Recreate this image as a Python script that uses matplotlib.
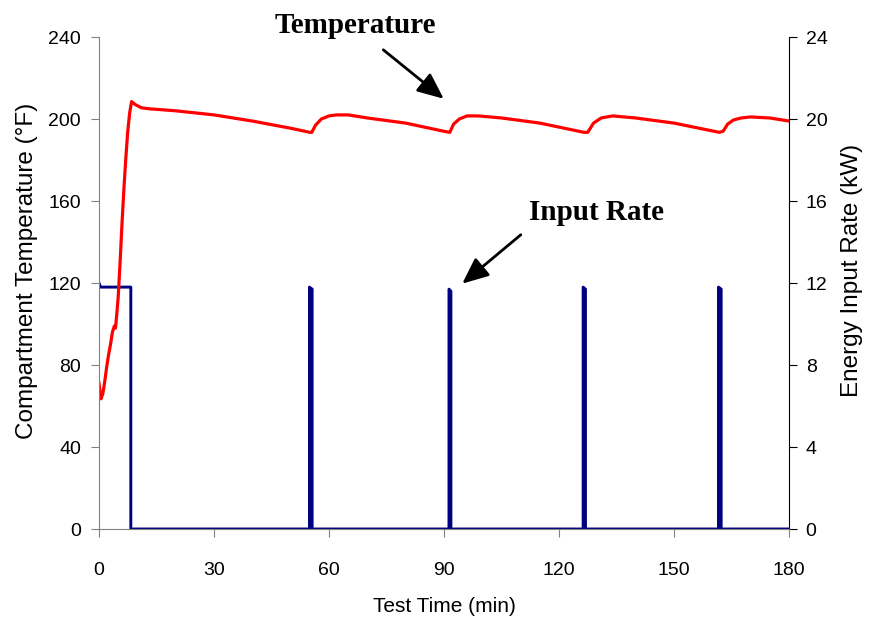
import matplotlib
matplotlib.use('Agg')
import matplotlib.pyplot as plt

# temperature trace (deg F) vs test time (min)
time_min = [0, 0.5, 1, 1.5, 2, 2.5, 3, 3.5, 4, 4.3, 4.6, 5, 5.5, 6, 6.5, 7, 7.5, 8, 8.5,
            9.5, 11, 13, 20, 30, 40, 50, 55, 55.5, 56.5, 58, 60, 62, 65, 70, 80, 90,
            91.5, 92.5, 94, 96, 99, 105, 115, 126.5, 127.5, 129, 131, 134, 140, 150,
            161.8, 162.8, 164, 165.5, 167.5, 170, 175, 180]
temp_f = [71, 63.5, 66, 72, 79, 85, 90, 96, 99, 98, 104, 113, 130, 149, 166, 181, 194, 203, 208.5,
          207, 205.5, 205, 204, 202, 199, 195.5, 193.5, 193.5, 197, 200, 201.5, 202, 202, 200.5, 198, 194,
          193.5, 197.5, 200, 201.5, 201.5, 200.5, 198, 193.5, 193.5, 198, 200.5, 201.5, 200.5, 198,
          193.5, 194, 197.5, 199.5, 200.5, 201, 200.5, 199]

# energy input rate (kW), burner on/off steps
rate_time = [0, 0.4, 8.3, 8.3, 54.9, 54.9, 55.6, 55.6, 91.3, 91.3, 91.8, 91.8,
             126.3, 126.3, 126.9, 126.9, 161.6, 161.6, 162.3, 162.3, 180]
rate_kw = [12.0, 11.8, 11.8, 0, 0, 11.8, 11.7, 0, 0, 11.7, 11.6, 0,
           0, 11.8, 11.7, 0, 0, 11.8, 11.7, 0, 0]

x_ticks = [0, 30, 60, 90, 120, 150, 180]
temp_ticks = [0, 40, 80, 120, 160, 200, 240]
rate_ticks = [0, 4, 8, 12, 16, 20, 24]

plt.rcParams['font.family'] = ['Liberation Sans', 'DejaVu Sans']

fig = plt.figure(figsize=(8.7, 6.22), dpi=100)
ax = fig.add_axes([99/870, 1 - 529/622, 690/870, 492/622])
ax2 = ax.twinx()

# temperature on top of the rate trace
ax.set_zorder(ax2.get_zorder() + 1)
ax.patch.set_visible(False)

ax2.plot(rate_time, rate_kw, color='#000080', lw=2.1)
ax.plot(time_min, temp_f, color='#ff0000', lw=2.3)

ax.set_xlim(0, 180)
ax.set_ylim(0, 240)
ax2.set_ylim(0, 24)
ax.set_xticks(x_ticks)
ax.set_yticks(temp_ticks)
ax2.set_yticks(rate_ticks)

gray = '#808080'
for s in ['top', 'right']:
    ax.spines[s].set_visible(False)
for s in ['top', 'left', 'bottom']:
    ax2.spines[s].set_visible(False)
ax.spines['left'].set_color(gray)
ax.spines['bottom'].set_color(gray)
ax2.spines['right'].set_color('black')

ax.tick_params(axis='x', direction='out', length=6, color=gray, labelsize=14, pad=18)
ax.tick_params(axis='y', direction='out', length=6, color=gray, labelsize=14, pad=7)
ax2.tick_params(axis='y', direction='out', length=6, color='black', labelsize=14, pad=6)

ax.set_xlabel('Test Time (min)', fontsize=15, labelpad=13)
ax.set_ylabel('Compartment Temperature (°F)', fontsize=17.5, labelpad=7, y=0.525)
ax2.set_ylabel('Energy Input Rate (kW)', fontsize=17.5, labelpad=10, y=0.525)

serif = ['Liberation Serif', 'DejaVu Serif']
arrow = dict(arrowstyle='-|>,head_length=1.6,head_width=0.7', color='black', lw=2)
ax.text(66.8, 245.4, 'Temperature', family=serif, fontweight='bold', fontsize=21,
        ha='center', va='center', clip_on=False)
ax.annotate('', xy=(90.5, 209.0), xytext=(73.6, 234.6), arrowprops=arrow)
ax.text(129.7, 154.6, 'Input Rate', family=serif, fontweight='bold', fontsize=21,
        ha='center', va='center')
ax.annotate('', xy=(94.2, 118.8), xytext=(110.6, 144.4), arrowprops=arrow)

fig.savefig('out.png', dpi=100)
